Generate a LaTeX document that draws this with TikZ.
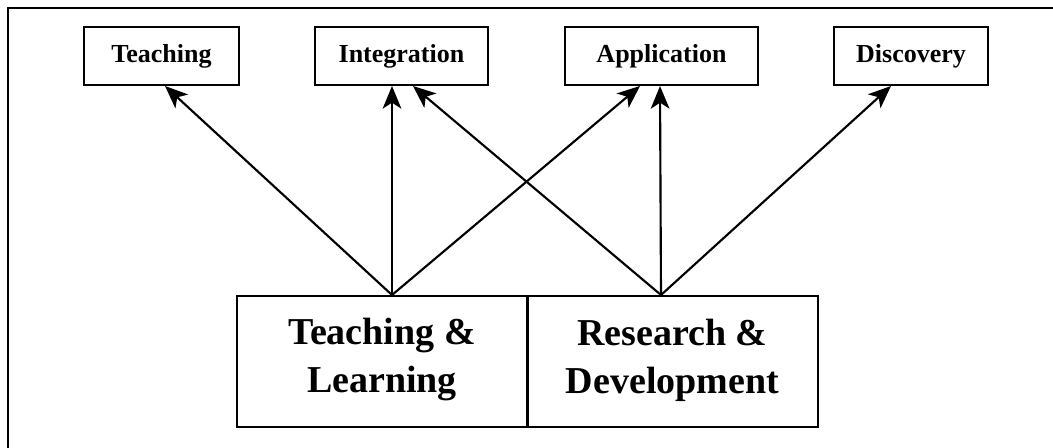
\documentclass[tikz,border=0pt]{standalone}
\usepackage{fontspec}
\setmainfont{Liberation Serif}
\usetikzlibrary{arrows.meta,calc}
\begin{document}
\begin{tikzpicture}[x=0.75pt,y=-0.75pt,
  topbox/.style={draw,line width=1.5pt,minimum width=#1*0.75pt,minimum height=58*0.75pt,inner sep=0pt,font=\bfseries\fontsize{19.5}{22}\selectfont},
  bigbox/.style={draw,line width=1.5pt,minimum width=290*0.75pt,minimum height=131*0.75pt,inner sep=0pt},
  bigtext/.style={align=center,font=\bfseries\fontsize{28.5}{36}\selectfont,inner sep=0pt},
  arr/.style={line width=1.6pt,-{Stealth[length=17pt,width=14pt,inset=4.5pt]}},
  frame/.style={line width=1.5pt}]
\useasboundingbox (0,0) rectangle (1053,448);
\draw[frame] (1053,8) -- (8,8) -- (8,448);
\node[topbox=155] (teach) at (161.5,56) {Teaching};
\node[topbox=173] (integ) at (401.5,56) {Integration};
\node[topbox=193] (appl) at (661.5,56) {Application};
\node[topbox=154] (disc) at (911,56) {Discovery};
\node[bigbox] (tl) at (382,361.5) {};
\node[bigbox] (rd) at (672.5,361.5) {};
\node[bigtext] (tltxt) at (382,360) {Teaching \&\\Learning};
\node[bigtext] (rdtxt) at (672.5,360) {Research \&\\Development};
\coordinate (tlsrc) at ($(tl.north)+(10,0)$);
\coordinate (rdsrc) at ($(rd.north)+(-11.5,0)$);
\draw[arr] (tlsrc) -- ($(teach.south)+(3.5,0)$);
\draw[arr] (tlsrc) -- ($(integ.south)+(-9.5,0)$);
\draw[arr] (tlsrc) -- ($(appl.south)+(-21.5,0)$);
\draw[arr] (rdsrc) -- ($(integ.south)+(11.5,0)$);
\draw[arr] (rdsrc) -- ($(appl.south)+(-1.5,0)$);
\draw[arr] (rdsrc) -- ($(disc.south)+(-20,0)$);
\end{tikzpicture}
\end{document}
